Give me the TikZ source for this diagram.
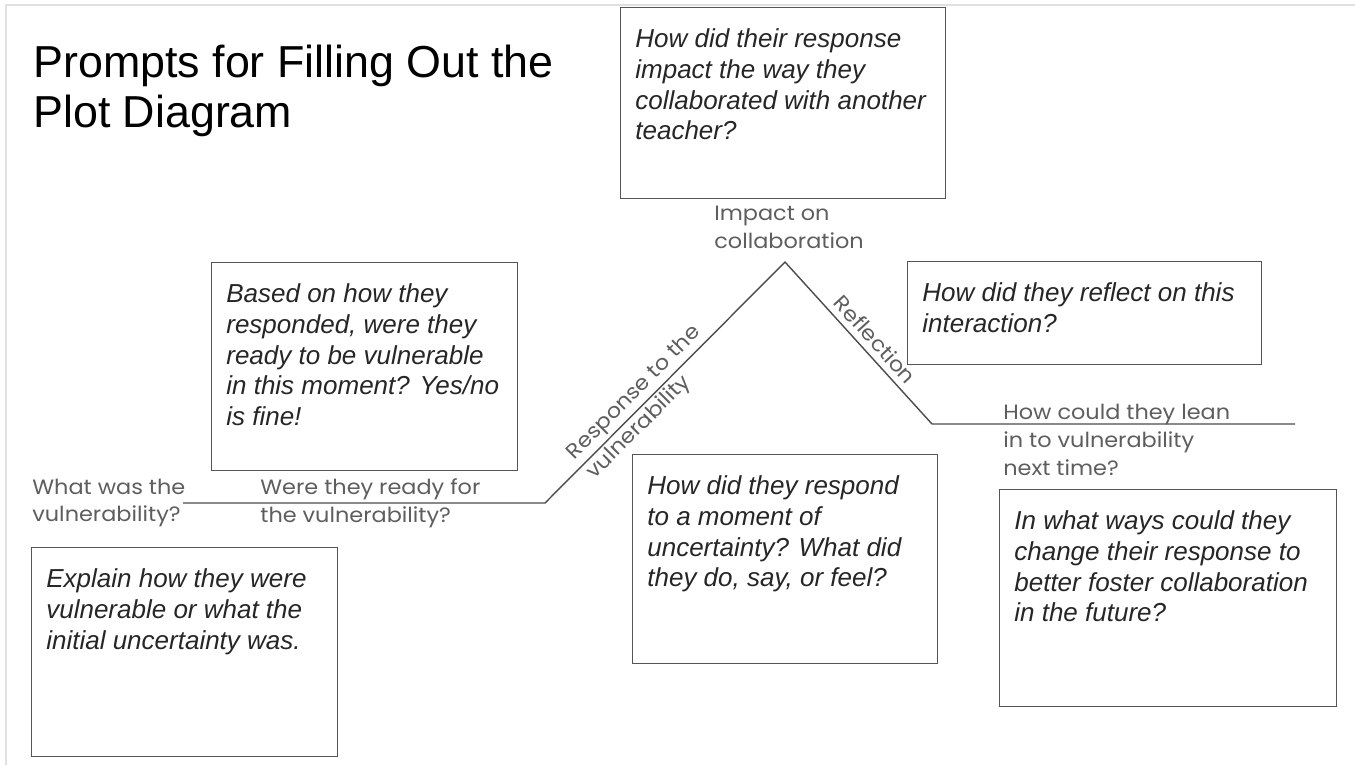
\documentclass[tikz,border=0pt]{standalone}
\usepackage{fontspec}
\setmainfont{Liberation Sans}
\newfontfamily\labelfont[FakeStretch=1.08]{Poppins}
\usetikzlibrary{positioning}
\usetikzlibrary{calc}
\definecolor{boxgray}{HTML}{555555}
\definecolor{labelgray}{HTML}{5E5E5E}
\definecolor{promptink}{HTML}{262626}
\tikzstyle{promptbox}=[draw=boxgray,line width=0.8pt,inner sep=0pt,anchor=north west]
\tikzstyle{prompttext}=[anchor=north west,align=left,inner sep=0pt,text=promptink,font=\fontsize{14.8pt}{17.6pt}\selectfont\itshape]
\tikzstyle{plotlabel}=[align=left,inner sep=0pt,text=labelgray,font=\labelfont\fontsize{11.8pt}{15.9pt}\selectfont]
\tikzstyle{plotline}=[draw=black!70,line width=0.8pt]

\begin{document}
\begin{tikzpicture}[x=0.02cm,y=-0.02cm]

  \useasboundingbox (0,0) rectangle (1355,765);
  \draw[black!12,line width=1.2pt] (1355,5) -- (6,5) -- (6,765);

  \node[anchor=north west,align=left,inner sep=0pt,font=\fontsize{25.5pt}{28.3pt}\selectfont] (title) at (33,45) {Prompts for Filling Out the\\Plot Diagram};

  % prompt boxes
  \foreach \x/\y/\w/\h/\name/\label in {
      620/7/325/191/impactbox/{How did their response\\impact the way they\\collaborated with another\\teacher?},
      211/262/306/208/readybox/{Based on how they\\responded, were they\\ready to be vulnerable\\in this moment? Yes/no\\is fine!},
      31/547/306/209/explainbox/{Explain how they were\\vulnerable or what the\\initial uncertainty was.},
      632/454/305/209/respondbox/{How did they respond\\to a moment of\\uncertainty? What did\\they do, say, or feel?},
      907/261/354/103/reflectbox/{How did they reflect on this\\interaction?},
      999/489/337/217/futurebox/{In what ways could they\\change their response to\\better foster collaboration\\in the future?}}
  {
      \node[promptbox,minimum width=\w*0.02cm,minimum height=\h*0.02cm] (\name) at (\x,\y) {};
      \node[prompttext] (\name text) at ($(\name.north west)+(15,21)$) {\label};
  }

  % the plot line
  \coordinate (start) at (183,503);
  \coordinate (rise) at (545,503);
  \coordinate (peak) at (785,262);
  \coordinate (fall) at (932,424);
  \coordinate (end) at (1295,424);

  \draw[plotline] (start) -- (rise)
      -- node[plotlabel,sloped,pos=0.415] (response) {Response to the\\vulnerability} (peak)
      -- node[plotlabel,sloped,above=3.5pt,pos=0.54] (reflection) {Reflection} (fall)
      -- (end);

  \foreach \x/\y/\name/\label in {32/503/vulnlabel/{What was the\\vulnerability?},
                                  260/503/readylabel/{Were they ready for\\the vulnerability?},
                                  714/227/impactlabel/{Impact on\\collaboration},
                                  1003/440/leanlabel/{How could they lean\\in to vulnerability\\next time?}}
      \node[plotlabel,anchor=west] (\name) at (\x,\y) {\label};

\end{tikzpicture}
\end{document}
